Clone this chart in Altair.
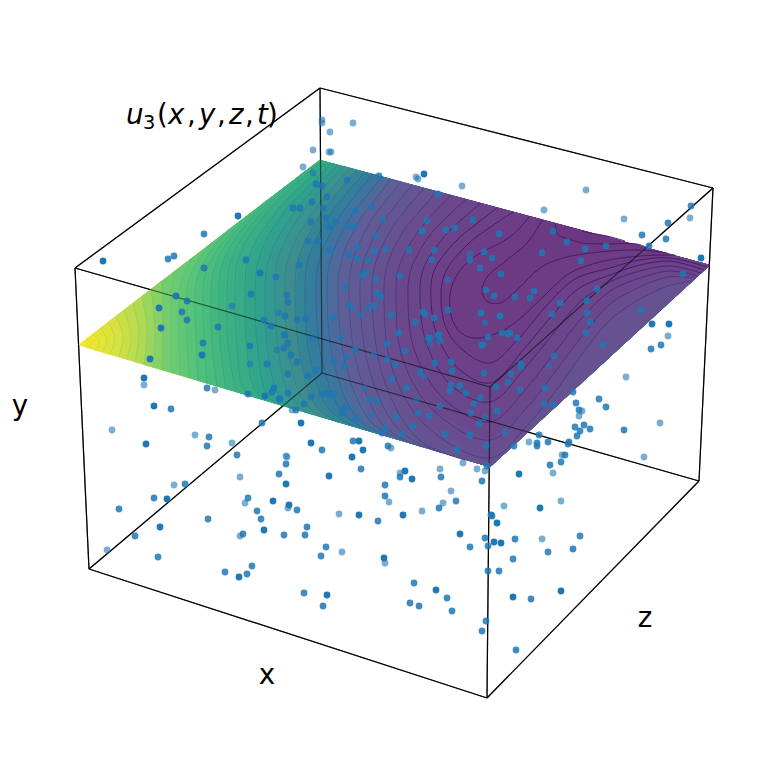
import altair as alt
import pandas as pd

# Surface outline corners and box edges (image pixels)
L, B, R, F = (78, 345), (320, 160), (710, 265), (490, 467)
box_edges = [
    [(75, 268), (320, 88)], [(320, 88), (713, 188)], [(713, 188), (490, 387)], [(490, 387), (75, 268)],
    [(89, 569), (322, 373)], [(322, 373), (699, 481)], [(699, 481), (487, 698)], [(487, 698), (89, 569)],
    [(75, 268), (89, 569)], [(320, 88), (322, 373)], [(713, 188), (699, 481)], [(490, 387), (487, 698)],
]

# Contours, outermost first: (level, closing corners, points)
contours = [
    (41, "LB", [(86,339),(91,343),(87,348)]),
    (40, "LB", [(93,334),(99,342),(95,350)]),
    (39, "LB", [(100,328),(107,340),(102,352)]),
    (38, "LB", [(108,322),(115,338),(110,354)]),
    (37, "LB", [(116,316),(123,336),(119,357)]),
    (36, "LB", [(124,310),(131,335),(127,359)]),
    (35, "LB", [(133,303),(139,332),(135,362)]),
    (34, "LB", [(142,296),(147,330),(144,365)]),
    (33, "LB", [(151,289),(155,328),(153,367)]),
    (32, "LB", [(162,281),(163,325),(162,370)]),
    (31, "LB", [(175,271),(173,281),(171,291),(171,300),(171,336),(171,372)]),
    (30, "LB", [(192,258),(184,273),(180,287),(179,300),(179,337),(180,375)]),
    (29, "LB", [(210,244),(196,264),(188,283),(187,300),(187,339),(189,378)]),
    (28, "LB", [(229,229),(208,255),(197,278),(195,300),(196,340),(198,381)]),
    (27, "LB", [(248,215),(220,246),(205,274),(203,300),(204,341),(207,383)]),
    (26, "LB", [(267,200),(232,236),(214,269),(211,300),(212,343),(217,386)]),
    (25, "LB", [(286,186),(244,227),(222,265),(219,300),(220,344),(226,389)]),
    (24, "LB", [(305,171),(257,218),(231,260),(227,300),(228,346),(236,392)]),
    (23, "LF", [(322,161),(293,186),(268,211),(239,257),(235,300),(237,348),(241,382),(247,395)]),
    (22, "LF", [(327,162),(300,187),(276,212),(249,257),(245,300),(247,350),(253,386),(262,399)]),
    (21, "LF", [(332,163),(307,188),(284,212),(259,258),(255,300),(258,352),(265,390),(276,404)]),
    (20, "LF", [(338,165),(314,189),(293,214),(269,258),(265,300),(268,354),(278,394),(291,408)]),
    (19, "LF", [(344,166),(321,190),(301,214),(278,258),(275,300),(279,356),(290,397),(306,412)]),
    (18, "LF", [(350,168),(329,192),(310,216),(288,259),(285,300),(290,358),(303,401),(321,417)]),
    (17, "LF", [(357,170),(337,193),(319,217),(298,260),(295,300),(301,361),(316,406),(337,422)]),
    (16, "LF", [(365,172),(345,195),(328,218),(308,260),(305,300),(311,363),(329,409),(353,426)]),
    (15, "LF", [(373,174),(354,197),(338,219),(319,261),(316,300),(323,365),(343,413),(370,431)]),
    (14, "LF", [(382,177),(364,199),(348,221),(330,262),(327,300),(335,368),(357,418),(387,436)]),
    (13, "LF", [(391,179),(374,201),(358,223),(341,262),(338,300),(347,370),(371,422),(404,441)]),
    (12, "LF", [(401,182),(384,203),(369,224),(352,263),(349,300),(359,373),(385,427),(422,447)]),
    (11, "LF", [(412,185),(395,206),(380,226),(363,264),(360,300),(371,376),(401,432),(442,453)]),
    (10, "LF", [(424,188),(407,208),(392,228),(375,265),(372,300),(384,380),(418,439),(465,460)]),
    (9, "FR", [(437,191),(420,211),(404,230),(387,266),(384,300),(392,368),(425,425),(490,458),(525,428),(558,388),(585,350),(610,320),(640,299),(668,286),(692,281)]),
    (8, "FR", [(451,195),(433,214),(417,233),(399,267),(396,300),(403,360),(435,412),(490,440),(525,410),(555,372),(583,335),(610,304),(640,287),(668,277),(695,278)]),
    (7, "FR", [(466,199),(447,217),(430,235),(411,269),(408,300),(415,352),(445,400),(490,422),(525,390),(555,352),(582,318),(610,291),(640,278),(670,271),(698,276)]),
    (6, "FR", [(481,203),(461,220),(443,238),(423,270),(420,300),(427,345),(453,387),(490,402),(525,368),(552,335),(580,302),(610,282),(640,271),(670,266),(701,273)]),
    (5, "FR", [(497,208),(475,225),(456,241),(434,271),(431,300),(438,338),(460,370),(490,383),(525,348),(550,318),(578,289),(610,275),(640,265),(670,261),(704,270)]),
    (4, "FR", [(513,212),(489,228),(468,244),(445,273),(441,300),(447,330),(465,352),(490,363),(520,337),(547,305),(575,279),(610,268),(640,260),(670,258),(707,267)]),
    (3, "BB", [(530,216),(510,237),(470,260),(453,283),(450,310),(458,330),(473,338),(500,332),(523,316),(547,293),(570,273),(600,262),(640,256),(675,255)]),
    (2, "BB", [(542,220),(527,243),(503,263),(487,277),(482,292),(488,302),(500,303),(517,290),(540,268),(563,258),(600,252),(640,250),(667,253)]),
    (1, "BB", [(555,223),(558,235),(565,238),(583,243),(607,244),(637,244),(648,248)]),
    (0, "BB", [(582,231),(590,233),(607,236),(625,241)]),
]
closing = {"LB": [F, R, B], "LF": [F, R], "FR": [R], "BB": []}
base_level = 42

fill_levels = [0, 3, 8, 13, 18, 23, 28, 32, 35, 38, 42]
fill_colors = ["#6a3580", "#6c3c84", "#6b488c", "#5f5e96", "#3f8c8f", "#38ac85",
               "#4fc07c", "#73cd70", "#afda55", "#d7e141", "#f2e62d"]
line_levels = [0, 5, 8, 13, 18, 23, 28, 35, 42]
line_colors = ["#48146a", "#48146a", "#52307e", "#4f4f8a", "#388089", "#30a07f", "#45b478", "#a5d050", "#e8dc2a"]

# Scatter points (image pixels), by shade
dots_dark = [(103,261),(238,216),(424,174),(144,378),(154,406),(146,444),(286,484),(167,499),(273,501),(289,505),
    (160,527),(264,530),(239,577),(652,324),(669,324),(701,258),(519,474),(540,508),(359,515),(403,515),(494,542),
    (384,558),(436,590),(327,595),(513,597),(561,591),(422,231),(481,313),(500,316),(176,296),(159,308),(161,328),
    (150,359),(202,355),(265,396),(260,273),(301,423),(311,443),(359,441),(363,450),(352,457),(329,476),(405,471),
    (412,479),(491,515),(497,523),(460,534),(501,543)]
dots_mid = [(168,259),(174,256),(204,234),(204,268),(246,260),(276,277),(299,265),(308,241),(318,241),(311,222),
    (326,218),(329,227),(293,208),(300,208),(312,202),(323,208),(327,197),(322,186),(316,184),(379,176),(347,180),
    (438,194),(372,207),(355,211),(336,222),(348,226),(355,227),(383,220),(427,221),(473,220),(446,230),(455,228),
    (499,234),(376,236),(357,247),(330,250),(386,249),(409,250),(434,250),(470,260),(484,252),(492,258),(349,255),
    (357,258),(374,251),(368,260),(432,260),(480,268),(501,274),(400,276),(366,272),(362,276),(376,279),(345,287),
    (377,293),(381,297),(486,290),(494,296),(515,297),(553,231),(567,242),(585,249),(606,246),(542,253),(581,261),
    (691,206),(668,223),(642,235),(666,239),(649,246),(683,274),(597,289),(534,291),(530,298),(587,301),(560,303),
    (552,314),(587,313),(590,322),(586,333),(641,310),(651,349),(661,345),(603,345),(517,338),(554,356),(510,333),
    (448,310),(434,318),(438,335),(440,341),(430,338),(488,337),(502,333),(508,334),(482,345),(187,301),(182,312),
    (187,320),(218,327),(251,294),(287,295),(288,302),(285,316),(264,320),(271,326),(288,343),(284,348),(250,346),
    (203,343),(267,364),(288,374),(207,388),(248,394),(274,388),(272,392),(279,399),(288,393),(171,409),(262,423),
    (209,437),(207,446),(237,455),(286,464),(297,320),(306,319),(285,335),(291,355),(297,362),(316,370),(308,376),
    (280,399),(311,397),(322,394),(327,393),(330,395),(334,394),(304,404),(296,410),(322,450),(349,305),(374,306),
    (333,318),(341,337),(355,350),(334,361),(347,357),(344,366),(387,344),(391,315),(415,322),(423,312),(425,314),
    (399,333),(405,351),(387,360),(395,365),(435,363),(428,338),(439,335),(451,362),(452,371),(420,372),(392,379),
    (407,388),(369,400),(377,401),(440,406),(418,413),(429,416),(396,417),(413,426),(356,419),(345,408),(342,413),
    (385,428),(382,433),(402,434),(445,434),(470,435),(353,441),(388,446),(361,469),(400,477),(441,477),(457,450),
    (487,466),(486,446),(479,424),(471,413),(474,404),(480,398),(466,393),(460,386),(451,385),(450,391),(484,373),
    (496,387),(497,411),(483,345),(521,364),(521,367),(511,374),(508,382),(520,390),(545,388),(573,392),(544,404),
    (553,405),(576,403),(599,399),(606,407),(579,410),(505,432),(539,435),(575,427),(584,425),(590,429),(580,431),
    (577,436),(624,430),(537,443),(537,446),(548,442),(514,446),(569,442),(568,444),(565,455),(561,462),(550,465),
    (492,516),(580,536),(279,474),(185,484),(154,498),(119,509),(248,498),(297,510),(257,511),(261,519),(208,519),
    (307,527),(135,536),(243,534),(284,535),(305,535),(158,557),(252,566),(225,572),(247,574),(304,593),(482,481),
    (385,485),(385,496),(456,501),(439,508),(378,521),(485,538),(515,539),(488,546),(470,547),(326,547),
    (321,556),(513,559),(488,571),(499,571),(414,583),(447,598),(410,603),(419,606),(452,611),(323,606),(531,599),
    (486,621),(482,631),(516,650),(548,552),(573,549)]
dots_light = [(303,167),(313,173),(313,150),(329,152),(330,132),(322,120),(322,123),(353,123),(331,152),(416,177),
    (418,179),(462,186),(586,190),(544,210),(624,219),(690,218),(668,336),(144,385),(215,390),(112,430),(195,435),
    (232,443),(287,457),(292,410),(286,456),(391,448),(400,473),(440,469),(463,463),(477,469),(485,471),(582,411),
    (579,416),(626,377),(529,442),(562,455),(644,457),(660,423),(553,473),(561,501),(504,506),(542,539),(240,477),
    (174,485),(245,503),(288,508),(240,536),(107,550),(451,491),(389,502),(443,503),(422,511),(339,514),(385,563),
    (342,552),(232,306),(279,313),(284,335),(277,350),(250,364),(353,309),(368,308),(361,315),(312,339),(374,355),
    (430,344),(424,376),(364,388),(416,400),(372,415),(485,417),(485,323),(470,254),(549,366),(448,280)]
dot_shades = {"dark": (dots_dark, 1.0), "mid": (dots_mid, 0.85), "light": (dots_light, 0.6)}

# Title and axis labels: pieces of the mathtext line with their start positions
title_italic = [("u", 126), ("x", 168), ("y", 199), ("z", 229), ("t", 257)]
title_roman = [("(", 157), (",", 187), (",", 217), (",", 245), (")", 267)]
title_sub = [("3", 143)]
axis_labels = [("x", 267, 676), ("y", 20, 407), ("z", 645, 619)]

# ---- tables -------------------------------------------------------------
bands, lines = [], []
def add_band(name, level, pts):
    for k, (px, py) in enumerate(pts):
        bands.append(dict(band=name, level=level, k=k, px=px, py=py))
add_band("base", base_level, [L, F, R, B])
for i, (level, close, pts) in enumerate(contours):
    name = f"c{i:02d}"
    add_band(name, level, pts + closing[close])
    for k, (px, py) in enumerate(pts):
        lines.append(dict(band=name, level=level, k=k, px=px, py=py))
bands, lines = pd.DataFrame(bands), pd.DataFrame(lines)

edges = pd.DataFrame([dict(edge=i, k=k, px=p[0], py=p[1]) for i, e in enumerate(box_edges) for k, p in enumerate(e)])
dots = pd.DataFrame([dict(px=p[0], py=p[1], shade=a) for _, (ps, a) in dot_shades.items() for p in ps])

X = alt.X("px:Q", scale=alt.Scale(domain=[8, 771], range=[0, 763]), axis=None)
Y = alt.Y("py:Q", scale=alt.Scale(domain=[8, 771], range=[0, 763]), axis=None)

def box(op):
    return alt.Chart(edges).mark_line(color="black", strokeWidth=1.2, opacity=op).encode(
        x=X, y=Y, detail="edge:N", order="k:Q")

surface = alt.Chart(bands).mark_line(interpolate="linear-closed", strokeWidth=0).encode(
    x=X, y=Y, detail="band:N", order="k:Q",
    fill=alt.Fill("level:Q", scale=alt.Scale(domain=fill_levels, range=fill_colors), legend=None))

contour_lines = alt.Chart(lines).mark_line(interpolate="catmull-rom", strokeWidth=0.9).encode(
    x=X, y=Y, detail="band:N", order="k:Q",
    stroke=alt.Stroke("level:Q", scale=alt.Scale(domain=line_levels, range=line_colors), legend=None))

points = alt.Chart(dots).mark_circle(size=46, color="#1f77b4").encode(
    x=X, y=Y, opacity=alt.Opacity("shade:Q", scale=None))

def text_layer(items, py, size, style):
    df = pd.DataFrame([dict(t=t, px=x, py=py) for t, x in items])
    return alt.Chart(df).mark_text(align="left", baseline="alphabetic", font="DejaVu Sans",
                                   fontSize=size, fontStyle=style, color="black").encode(x=X, y=Y, text="t:N")

labels = alt.Chart(pd.DataFrame([dict(t=t, px=x, py=y) for t, x, y in axis_labels])).mark_text(
    align="center", baseline="middle", font="DejaVu Sans", fontSize=27.7, color="black").encode(x=X, y=Y, text="t:N")

chart = alt.layer(
    box(1), surface, contour_lines, box(0.55), points,
    text_layer(title_italic, 124, 27.7, "italic"),
    text_layer(title_roman, 124, 27.7, "normal"),
    text_layer(title_sub, 129, 19.4, "normal"),
    labels,
).properties(width=763, height=763, padding=0, autosize=alt.AutoSizeParams(type="none"),
             background="white").configure_view(stroke=None)

chart.save("out.html", embed_options={"renderer": "svg", "actions": False})
